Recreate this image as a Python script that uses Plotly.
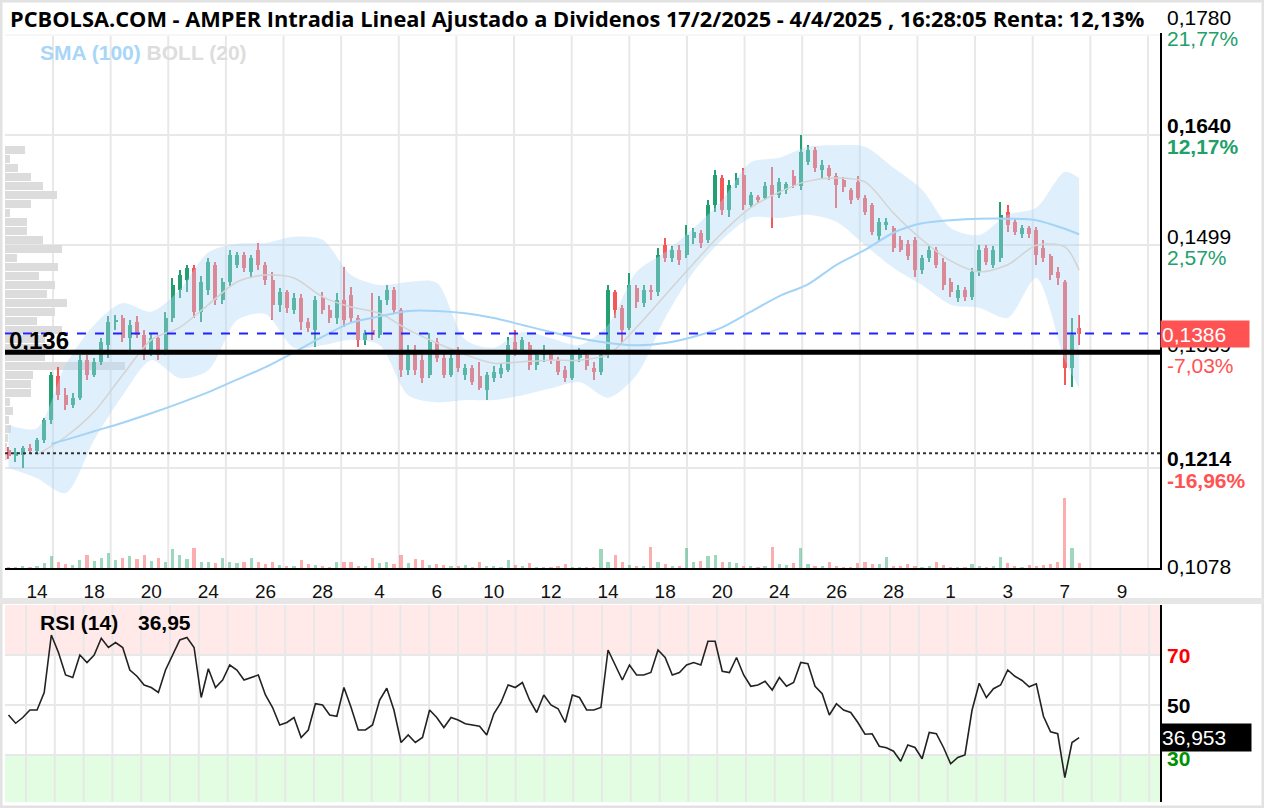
import plotly.graph_objects as go

W, H = 1264, 808

# ---------------- data (prices in units of 0.0001 EUR) ----------------
opens = [1237,1229,1231,1239,1236,1250,1275,1332,1307,1295,
         1304,1352,1333,1350,1371,1401,1406,1380,1401,1384,
         1362,1380,1362,1406,1442,1454,1470,1414,1442,1474,
         1429,1452,1474,1486,1465,1493,1474,1454,1423,1439,
         1416,1431,1401,1391,1431,1416,1406,1429,1435,1406,
         1378,1390,1384,1429,1442,1416,1339,1362,1352,1333,
         1375,1355,1333,1362,1333,1342,1332,1314,1329,1334,
         1339,1375,1362,1371,1346,1359,1362,1352,1339,1329,
         1355,1359,1342,1337,1359,1439,1419,1393,1444,1425,
         1442,1439,1499,1483,1493,1486,1508,1515,1506,1550,
         1585,1544,1576,1589,1550,1561,1559,1576,1563,1570,
         1588,1575,1605,1621,1595,1598,1588,1582,1570,1580,
         1559,1550,1511,1525,1521,1506,1501,1506,1467,1483,
         1493,1478,1452,1431,1442,1433,1465,1495,1474,1483,
         1541,1529,1513,1521,1518,1495,1485,1465,1452,1342,
         1393]
highs = [1241,1239,1242,1245,1252,1278,1337,1343,1316,1310,
         1359,1359,1355,1380,1408,1410,1410,1403,1408,1391,
         1387,1384,1414,1457,1467,1474,1474,1460,1483,1478,
         1457,1493,1490,1490,1486,1502,1478,1465,1444,1442,
         1438,1437,1406,1434,1439,1423,1438,1471,1446,1410,
         1391,1438,1434,1448,1446,1419,1371,1371,1359,1387,
         1380,1362,1362,1369,1347,1346,1350,1337,1344,1347,
         1382,1391,1382,1375,1365,1371,1365,1356,1344,1365,
         1368,1362,1350,1365,1448,1442,1423,1463,1448,1448,
         1448,1495,1508,1498,1499,1525,1521,1518,1557,1595,
         1589,1582,1591,1598,1567,1563,1580,1599,1585,1580,
         1595,1640,1627,1625,1608,1602,1591,1586,1572,1588,
         1563,1553,1534,1534,1524,1511,1506,1510,1486,1498,
         1497,1483,1457,1448,1446,1470,1499,1499,1498,1554,
         1550,1534,1525,1524,1522,1506,1488,1471,1454,1406,
         1410]
lows = [1225,1222,1214,1232,1232,1246,1270,1301,1288,1291,
        1301,1327,1330,1346,1355,1391,1375,1362,1380,1352,
        1357,1352,1359,1401,1431,1439,1406,1401,1435,1423,
        1424,1447,1470,1465,1457,1467,1448,1403,1414,1412,
        1411,1391,1388,1369,1411,1399,1398,1394,1401,1369,
        1371,1378,1380,1423,1411,1330,1333,1333,1323,1329,
        1350,1329,1330,1337,1327,1320,1314,1301,1324,1329,
        1337,1357,1360,1339,1339,1350,1347,1333,1324,1327,
        1350,1339,1327,1333,1355,1406,1374,1391,1419,1420,
        1429,1434,1478,1478,1474,1483,1501,1495,1502,1541,
        1538,1535,1572,1544,1547,1553,1557,1521,1559,1565,
        1572,1570,1602,1593,1585,1582,1547,1567,1552,1557,
        1538,1512,1503,1518,1490,1490,1480,1458,1462,1478,
        1470,1442,1433,1426,1428,1429,1460,1474,1470,1478,
        1516,1512,1508,1508,1474,1478,1454,1448,1320,1318,
        1371]
closes = [1229,1234,1239,1236,1250,1275,1333,1307,1295,1304,
          1352,1333,1350,1375,1401,1403,1380,1397,1384,1359,
          1380,1359,1406,1448,1461,1470,1414,1452,1478,1429,
          1452,1486,1486,1470,1483,1474,1454,1423,1439,1419,
          1431,1401,1393,1429,1416,1406,1429,1403,1406,1378,
          1387,1384,1429,1442,1416,1339,1359,1339,1329,1375,
          1355,1333,1355,1342,1342,1324,1316,1333,1337,1342,
          1371,1365,1378,1346,1359,1365,1352,1337,1329,1359,
          1362,1344,1337,1359,1442,1416,1391,1448,1426,1442,
          1439,1486,1483,1493,1480,1512,1516,1502,1550,1589,
          1544,1576,1585,1550,1563,1557,1575,1563,1580,1577,
          1575,1618,1621,1598,1602,1588,1576,1573,1557,1559,
          1541,1516,1529,1529,1495,1493,1485,1467,1483,1493,
          1474,1448,1439,1442,1433,1465,1493,1478,1493,1538,
          1525,1516,1521,1513,1486,1483,1461,1457,1342,1384,
          1386]
volumes = [0.3,0.2,0.4,0.3,0.5,1.2,2.9,1.5,1.0,0.8,
           2.0,3.3,1.8,2.5,3.7,2.0,2.6,3.0,2.2,3.2,
           1.7,2.4,1.5,4.8,3.3,2.2,4.9,1.6,1.5,1.2,
           2.4,1.6,1.2,1.5,2.4,1.4,1.0,1.6,0.8,0.6,
           0.5,2.0,0.9,0.7,0.4,0.3,1.6,1.5,1.4,0.6,
           0.4,2.4,1.2,1.6,1.0,3.3,1.2,2.2,2.0,0.8,
           0.9,0.8,0.5,0.4,0.8,0.3,1.5,0.6,0.4,0.3,
           2.0,0.8,0.4,1.2,0.3,0.2,0.2,0.4,1.0,0.3,
           0.2,0.2,0.3,4.8,1.5,3.3,1.6,0.7,0.5,0.4,
           5.3,1.6,1.0,0.5,0.6,4.9,1.4,1.8,3.0,3.2,
           1.6,1.5,1.2,0.6,0.4,0.3,0.5,5.3,1.0,0.8,
           1.2,4.9,1.0,0.6,0.4,1.6,0.4,0.3,0.2,1.2,
           1.4,1.0,0.9,2.8,0.4,0.6,1.0,0.6,0.3,0.4,
           1.6,0.8,0.3,0.2,0.3,1.0,0.5,0.3,0.4,2.8,
           1.2,0.4,0.3,0.8,0.6,0.8,1.0,1.5,17.5,4.9,
           1.2]
rsi = [46,42.7,45,48,48,55,78,71,62,61,
       70,67,70,76.7,73,75,73,64,61.5,58,
       57,55,64,70,76,77,73,53,64.5,57,
       60,66,64,60,61,62,54,49,42,43,
       45,37,40,50.5,50,46,45.5,57,49,40,
       40,42,52,56.7,48,35,38,35,37,48,
       45,41,45,44,42.5,42,41.5,38,46.5,51,
       58,57,59,52,47,54,50,48.5,43,54,
       53,48,48,49,72,66,60,66,62,62,
       63,72,69,62,63,66,67,66,75.5,75.5,
       63.5,63,69,62,57.5,58,59.5,56,61,57.5,
       59,67,66.5,57.5,54.5,46,50.5,48,47,43,
       38.3,38.5,33.5,32.9,31.5,27.5,34,33,28.5,39,
       38.5,33,26.5,29,30,48,58.7,53,56.5,58,
       64,61.5,59.8,57.3,58.5,45.5,39.3,38.5,21,35,
       36.95]

# Bollinger (20) and SMA (100), sampled at the start of each session
band_idx = [0,4,8,12,16,20,24,28,32,36,40,44,48,52,56,60,64,68,72,76,
            80,84,88,92,96,100,104,108,112,116,120,124,128,132,136,140,144,148,150]
bb_upper = [1269,1265,1346,1397,1425,1414,1442,1490,1501,1502,
            1510,1506,1461,1448,1452,1451,1378,1368,1388,1380,
            1371,1397,1465,1490,1521,1557,1605,1611,1625,1627,
            1625,1598,1570,1521,1512,1538,1547,1593,1585]
bb_lower = [1214,1201,1182,1250,1307,1352,1329,1339,1403,1411,
            1368,1371,1378,1371,1307,1298,1301,1301,1307,1316,
            1324,1304,1333,1406,1465,1506,1534,1534,1538,1529,
            1499,1470,1448,1423,1419,1406,1457,1352,1316]
bb_mid = [1231,1254,1286,1333,1378,1394,1423,1452,1461,1457,
          1433,1420,1412,1391,1374,1359,1348,1350,1352,1352,
          1359,1394,1435,1476,1515,1547,1567,1581,1585,1580,
          1540,1506,1479,1465,1474,1499,1497,1467]
sma_idx = [6,8,12,16,20,24,28,32,36,40,44,48,52,56,60,64,68,72,76,
           80,84,88,92,96,100,104,108,112,116,120,124,128,132,136,140,144,148,150]
sma100 = [1245,1250,1261,1272,1284,1297,1311,1327,1343,1362,1382,
          1400,1408,1415,1415,1412,1406,1397,1388,1380,1374,
          1371,1374,1382,1394,1414,1434,1449,1474,1493,1515,
          1527,1531,1533,1533,1531,1520,1513]

# volume profile (price levels, volume)
profile_price = [1621,1609,1598,1586,1575,1563,1552,1540,1529,1517,
                 1506,1494,1483,1471,1460,1448,1437,1425,1414,1402,
                 1391,1379,1368,1356,1345,1333,1321,1310,1298,1287,
                 1275,1264,1252,1241,1229]
profile_vol = [2.0,0.5,1.3,2.6,3.8,5.2,2.6,0.5,2.2,2.2,
               3.8,5.7,1.2,5.3,3.4,5.0,4.2,6.2,5.0,3.2,
               5.7,4.0,4.5,4.0,12.0,2.8,2.6,2.6,0.5,0.8,
               0.4,0.6,0.3,0.2,0.2]

day_tick_idx = [4,12,20,28,36,44,52,60,68,76,84,92,100,108,116,124,132,140,148,156]
day_labels = ["14","18","20","24","26","28","4","6","10","12",
              "14","18","20","24","26","28","1","3","7","9"]

last_price = 1386
support_level = 1362
dotted_level = 1233
rsi_last = 36.953

# ---------------- styling ----------------
GREEN = "#22a072"
RED = "#f55858"
PCT_GREEN = "#22a06b"
PCT_RED = "#ff5252"
SC = 1e-4

def PX(px):
    return px / W

def PY(py):
    return 1 - py / H

N = len(closes)
x = list(range(N))
O = [v * SC for v in opens]
Hi = [v * SC for v in highs]
Lo = [v * SC for v in lows]
C = [v * SC for v in closes]
up = [c >= o for o, c in zip(O, C)]
cols = [GREEN if u else RED for u in up]
vcols = ["rgba(38,166,110,0.45)" if u else "rgba(246,93,93,0.5)" for u in up]

fig = go.Figure()

# volume profile (base subplot, drawn first)
fig.add_trace(go.Bar(
    x=profile_vol, y=[p * SC for p in profile_price], orientation="h",
    xaxis="x3", yaxis="y", width=0.00105,
    marker=dict(color="#dcdcdc", line=dict(width=0)), hoverinfo="skip"))

# Bollinger band fill
fig.add_trace(go.Scatter(x=band_idx, y=[v * SC for v in bb_upper], mode="lines",
                         line=dict(width=0, shape="spline", smoothing=0.8),
                         xaxis="x", yaxis="y", hoverinfo="skip"))
fig.add_trace(go.Scatter(x=band_idx, y=[v * SC for v in bb_lower], mode="lines",
                         line=dict(width=0, shape="spline", smoothing=0.8),
                         fill="tonexty", fillcolor="rgba(175,215,245,0.40)",
                         xaxis="x", yaxis="y", hoverinfo="skip"))
fig.add_trace(go.Scatter(x=band_idx[1:], y=[v * SC for v in bb_mid], mode="lines",
                         line=dict(width=1.5, color="#d3d3d3", shape="spline", smoothing=0.8),
                         xaxis="x", yaxis="y", hoverinfo="skip"))
fig.add_trace(go.Scatter(x=sma_idx, y=[v * SC for v in sma100], mode="lines",
                         line=dict(width=2, color="#a3d4f7", shape="spline", smoothing=0.8),
                         xaxis="x", yaxis="y", hoverinfo="skip"))

# candles: wicks + bodies
fig.add_trace(go.Bar(x=x, base=Lo, y=[h - l for h, l in zip(Hi, Lo)], width=0.2,
                     marker=dict(color=cols, line=dict(width=0)),
                     xaxis="x", yaxis="y", hoverinfo="skip"))
fig.add_trace(go.Bar(x=x, base=[min(o, c) for o, c in zip(O, C)],
                     y=[abs(c - o) for o, c in zip(O, C)], width=0.56,
                     marker=dict(color=cols, line=dict(width=0)),
                     xaxis="x", yaxis="y", hoverinfo="skip"))

# volume
fig.add_trace(go.Bar(x=x, y=volumes, width=0.45, marker=dict(color=vcols, line=dict(width=0)),
                     xaxis="x", yaxis="y3", hoverinfo="skip"))

# RSI
fig.add_trace(go.Scatter(x=x, y=rsi, mode="lines", line=dict(color="#222", width=1.6),
                         xaxis="x2", yaxis="y2", hoverinfo="skip"))

xmin = (5 - 8.5) / 7.1375
xmax = (1160 - 8.5) / 7.1375

shapes = []
# outer frame and separator
shapes.append(dict(type="rect", xref="paper", yref="paper", x0=0, x1=1, y0=0, y1=1,
                   line=dict(color="#e2e2e2", width=5), fillcolor="rgba(0,0,0,0)", layer="below"))
shapes.append(dict(type="rect", xref="paper", yref="paper", x0=0, x1=1, y0=PY(604), y1=PY(598),
                   line=dict(width=0), fillcolor="#e6e6e6", layer="below"))
shapes.append(dict(type="line", xref="paper", yref="paper", x0=PX(5), x1=PX(1160), y0=PY(35), y1=PY(35),
                   line=dict(color="#eeeeee", width=1), layer="below"))
# RSI zones
shapes.append(dict(type="rect", xref="paper", yref="y2", x0=PX(5), x1=PX(1160), y0=70, y1=90,
                   line=dict(width=0), fillcolor="#ffe9e9", layer="below"))
shapes.append(dict(type="rect", xref="paper", yref="y2", x0=PX(5), x1=PX(1160), y0=11.2, y1=30,
                   line=dict(width=0), fillcolor="#e2fde2", layer="below"))
# vertical grids
for k in range(20):
    gx = 53 + 57.63 * k
    shapes.append(dict(type="line", xref="paper", yref="paper", x0=PX(gx), x1=PX(gx),
                       y0=PY(568), y1=PY(36), line=dict(color="#e8e8e8", width=2), layer="below"))
for k in range(40):
    gx = 26 + 28.8 * k
    if gx > 1156:
        break
    shapes.append(dict(type="line", xref="paper", yref="paper", x0=PX(gx), x1=PX(gx),
                       y0=PY(802), y1=PY(605), line=dict(color="#e8e8e8", width=2), layer="below"))
# level lines
shapes.append(dict(type="line", xref="paper", yref="y", x0=PX(5), x1=PX(1160),
                   y0=dotted_level * SC, y1=dotted_level * SC,
                   line=dict(color="#333", width=2, dash="dot"), layer="above"))
shapes.append(dict(type="line", xref="paper", yref="y", x0=PX(5), x1=PX(1160),
                   y0=support_level * SC, y1=support_level * SC,
                   line=dict(color="black", width=5), layer="above"))
shapes.append(dict(type="line", xref="paper", yref="y", x0=PX(5), x1=PX(1160),
                   y0=last_price * SC, y1=last_price * SC,
                   line=dict(color="#2222ff", width=2, dash="dash"), layer="above"))

FONT = "Liberation Sans, Arial, sans-serif"
LS = 21
ann = []

def lab(text, yval, shift, color="black", size=LS, yref="y", x=1165):
    ann.append(dict(text=text, xref="paper", x=PX(x), xanchor="left", yref=yref, y=yval,
                    yanchor="middle", yshift=shift, showarrow=False,
                    font=dict(family=FONT, size=size, color=color)))

# labels above / below the visible price range (placed in page coordinates)
lab("0,1780", PY(17), 0, yref="paper")
lab("21,77%", PY(38), 0, PCT_GREEN, yref="paper")
lab("<b>0,1640</b>", 0.1640, 10)
lab("<b>12,17%</b>", 0.1640, -11, PCT_GREEN)
lab("0,1499", 0.1499, 9)
lab("2,57%", 0.1499, -12, PCT_GREEN)
lab("0,1359", 0.1359, 10)
lab("-7,03%", 0.1359, -11, PCT_RED)
lab("<b>0,1214</b>", 0.1214, 10)
lab("<b>-16,96%</b>", 0.1214, -12, PCT_RED)
lab("0,1078", PY(566), 0, yref="paper")
# last price box
ann.append(dict(text="0,1386", xref="paper", x=PX(1160), xanchor="left", yref="y",
                y=last_price * SC, yanchor="middle", showarrow=False, align="left",
                width=86, height=24, borderpad=1, bgcolor="#ff5252",
                font=dict(family=FONT, size=LS, color="white")))
# RSI axis labels
lab("<b>70</b>", 70, 0, "#ff0000", LS, "y2")
lab("<b>50</b>", 50, 0, "black", LS, "y2")
lab("<b>30</b>", 30, -3, "#009000", LS, "y2")
ann.append(dict(text="36,953", xref="paper", x=PX(1160), xanchor="left", yref="y2",
                y=rsi_last, yanchor="middle", showarrow=False, align="left",
                width=88, height=25, borderpad=1, bgcolor="black",
                font=dict(family=FONT, size=LS, color="white")))
# left level label
ann.append(dict(text="<b>0,136</b>", xref="paper", x=PX(7), xanchor="left", yref="y",
                y=support_level * SC, yanchor="middle", yshift=12, showarrow=False,
                font=dict(family=FONT, size=24, color="black")))
# title
ann.append(dict(text="<b>PCBOLSA.COM - AMPER Intradia Lineal Ajustado a Dividenos 17/2/2025 - 4/4/2025 , 16:28:05 Renta: 12,13%</b>",
                xref="paper", x=PX(8), xanchor="left", yref="paper", y=PY(18), yanchor="middle",
                showarrow=False, font=dict(family="Open Sans, sans-serif", size=21.8, color="black")))
# indicator legend
ann.append(dict(text="<b><span style='color:#a8d6f8'>SMA (100)</span> <span style='color:#dddddd'>BOLL (20)</span></b>",
                xref="paper", x=PX(38), xanchor="left", yref="paper", y=PY(52), yanchor="middle",
                showarrow=False, font=dict(family=FONT, size=21)))
ann.append(dict(text="<b>RSI (14)</b>", xref="paper", x=PX(38), xanchor="left", yref="paper",
                y=PY(622), yanchor="middle", showarrow=False, font=dict(family=FONT, size=21, color="black")))
ann.append(dict(text="<b>36,95</b>", xref="paper", x=PX(136), xanchor="left", yref="paper",
                y=PY(622), yanchor="middle", showarrow=False, font=dict(family=FONT, size=21, color="black")))

fig.update_layout(
    width=W, height=H, margin=dict(l=0, r=0, t=0, b=0),
    paper_bgcolor="white", plot_bgcolor="rgba(0,0,0,0)",
    showlegend=False, barmode="overlay", bargap=0,
    xaxis3=dict(domain=[PX(5), PX(1160)], range=[0, 115.5], visible=False, anchor="y",
                fixedrange=True),
    xaxis=dict(overlaying="x3", range=[xmin, xmax], anchor="y",
               tickmode="array", tickvals=day_tick_idx, ticktext=day_labels,
               showgrid=False, zeroline=False, showline=True, linecolor="black", linewidth=2,
               ticks="", ticklabelstandoff=5,
               tickfont=dict(family="Liberation Sans Narrow, Arial Narrow, Liberation Sans", size=19, color="#111")),
    yaxis=dict(domain=[PY(568), PY(33)], range=[0.10861, 0.17705], side="right", anchor="x",
               tickmode="array", tickvals=[0.1214, 0.1499, 0.1640], showticklabels=False,
               gridcolor="#e8e8e8", gridwidth=2, zeroline=False, showline=True,
               linecolor="black", linewidth=2, ticks=""),
    yaxis3=dict(overlaying="y", range=[0, 133.75], visible=False, anchor="x"),
    xaxis2=dict(domain=[PX(5), PX(1160)], range=[xmin, xmax], anchor="y2",
                showticklabels=False, showgrid=False, zeroline=False, showline=False, ticks=""),
    yaxis2=dict(domain=[PY(802), PY(605)], range=[11.2, 90], side="right", anchor="x2",
                tickmode="array", tickvals=[30, 50, 70], showticklabels=False,
                gridcolor="#e8e8e8", gridwidth=2, zeroline=False, showline=True,
                linecolor="black", linewidth=2, ticks=""),
    shapes=shapes, annotations=ann,
)

fig.write_html("out.html")
